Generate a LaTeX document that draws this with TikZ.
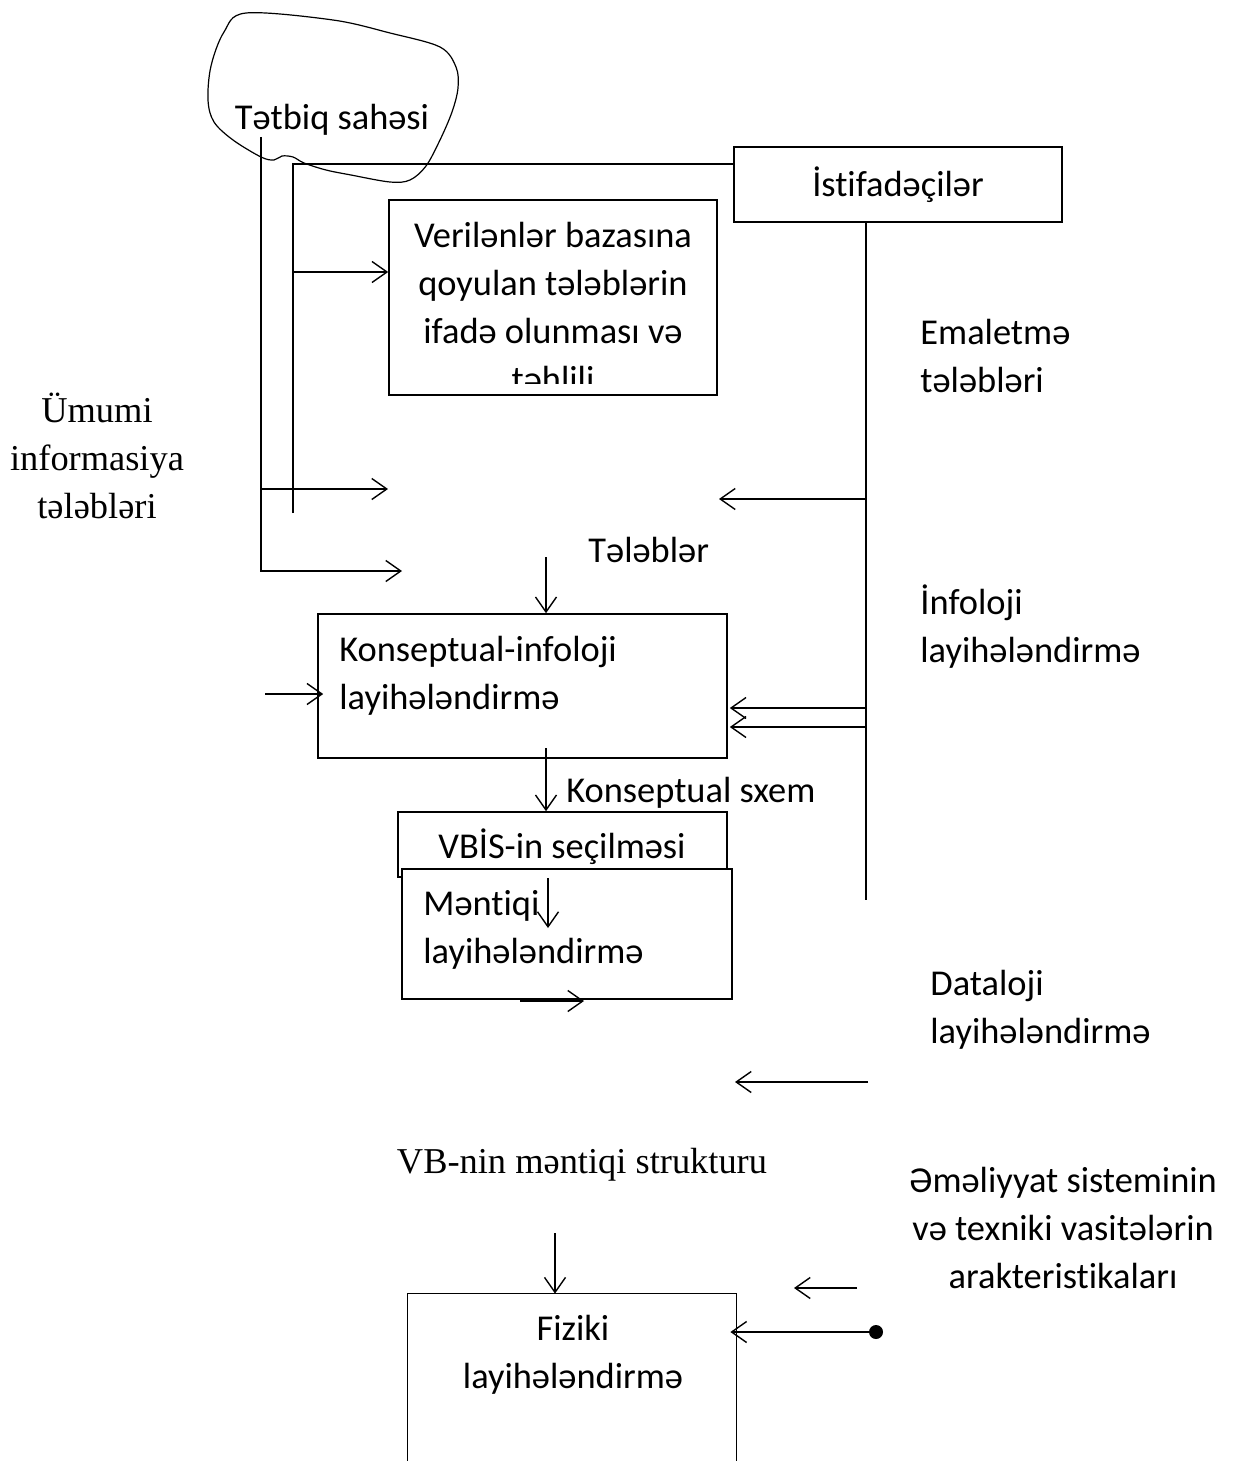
\documentclass[tikz,border=0pt]{standalone}
\usepackage{fontspec}
\setmainfont{Carlito}[Ligatures=CommonOff]
\newfontfamily\timesfont{Liberation Serif}
\usetikzlibrary{arrows.meta}

\tikzset{
    box/.style={draw, line width=0.8pt, inner sep=0pt},
    line/.style={line width=0.7pt},
    arr/.style={line width=0.7pt, -{Straight Barb[length=7.5pt,width=10.5pt]}},
    txt/.style={inner sep=0pt, font=\fontsize{18.2pt}{24pt}\selectfont},
    serif/.style={inner sep=0pt, font=\timesfont\fontsize{18.2pt}{24pt}\selectfont},
}

\begin{document}
\begin{tikzpicture}[x=0.5pt,y=-0.5pt]
        \useasboundingbox (0,0) rectangle (1235,1461);
        %% Cloud
        \draw[line width=0.6pt] plot[smooth cycle, tension=0.55] coordinates {
            (208,100) (211,66) (224,32) (246,13) (333,20) (390,33) (440,47)
            (456,67) (458,88) (452,112) (440,140) (426,166) (410,180)
            (390,182) (351,175) (326,170) (304,163) (293,157) (282,156)
            (274,160) (261,157) (233,140) (214,122)};
        \node[txt, anchor=base] (tetbiq) at (332,130) {Tətbiq sahəsi};
        %% Boxes (multi-line texts placed at the baseline of their last line)
        \node[box, txt, minimum width=164pt, minimum height=37.5pt] (istif) at (898,184.5) {İstifadəçilər};
        \node[box, minimum width=164pt, minimum height=97.5pt] (verilen) at (553,297.5) {};
        \begin{scope}
            \clip (389,200) rectangle (717,383);
            \node[txt, align=center, anchor=base] (verilentxt) at (553,391)
                {Verilənlər bazasına\\qoyulan tələblərin\\ifadə olunması və\\təhlili};
        \end{scope}
        \node[box, minimum width=204.5pt, minimum height=72pt] (konsept) at (522.5,686) {};
            \node[txt, align=left, anchor=base west] (konsepttxt) at (339,709) {Konseptual-infoloji\\layihələndirmə};
        \node[box, minimum width=164.5pt, minimum height=32.5pt] (vbis) at (562.5,844.5) {};
            \node[txt, anchor=base] (vbistxt) at (562,858) {VBİS-in seçilməsi};
        \node[box, fill=white, minimum width=165pt, minimum height=65pt] (mentiq) at (567,934) {};
            \node[txt, align=left, anchor=base west] (mentiqtxt) at (423,963) {Məntiqi\\layihələndirmə};
        \node[minimum width=164pt, minimum height=83.5pt, inner sep=0pt] (fiziki) at (572,1377.5) {};
            \draw[line width=0.8pt] (fiziki.south west) |- (fiziki.north east) -- (fiziki.south east);
            \node[txt, align=center, anchor=base] (fizikitxt) at (573,1388) {Fiziki\\layihələndirmə};
        %% Labels
        \node[serif, align=center, anchor=base] (umumi) at (97,518) {Ümumi\\informasiya\\tələbləri};
        \node[txt, align=left, anchor=base west] (emal) at (920,392) {Emaletmə\\tələbləri};
        \node[txt, anchor=base west] (teleb) at (588,562) {Tələblər};
        \node[txt, align=left, anchor=base west] (infoloji) at (920,662) {İnfoloji\\layihələndirmə};
        \node[txt, anchor=base west] (sxem) at (566,802) {Konseptual sxem};
        \node[txt, align=left, anchor=base west] (dataloji) at (930,1043) {Dataloji\\layihələndirmə};
        \node[serif, anchor=base] (struktur) at (582,1173) {VB-nin məntiqi strukturu};
        \node[txt, align=center, anchor=base] (emeliyyat) at (1063,1288) {Əməliyyat sisteminin\\və texniki vasitələrin\\arakteristikaları};
        %% Left buses
        \coordinate (busA) at (261,137);
        \coordinate (busB) at (293,513);
        \coordinate (topbus) at (293,164);
        \coordinate (vin) at (293,272);
        \coordinate (tipA) at (388,489);
        \coordinate (tipB) at (402,571);
        \draw[arr] (busA) |- (tipB);
        \draw[arr] (busA |- tipA) -- (tipA);
        \draw[line] (busB) -- (topbus) -- (topbus -| istif.west);
        \draw[arr] (vin) -- (vin -| verilen.west);
        %% Right bus
        \coordinate (rtop) at (866,222);
        \coordinate (rbot) at (866,900);
        \coordinate (tipC) at (719,499);
        \coordinate (rin1) at (866,708);
        \coordinate (rin2) at (866,727);
        \draw[line] (rtop) -- (rbot);
        \draw[arr] (rtop |- tipC) -- (tipC);
        \draw[arr] (rin1) -- ([xshift=1pt]konsept.east |- rin1);
        \draw[arr] (rin2) -- ([xshift=1pt]konsept.east |- rin2);
        %% Middle arrows
        \coordinate (talin) at (546,557);
        \coordinate (leftin) at (265,694);
        \coordinate (sxout) at (546,748);
        \coordinate (mtop) at (548,878);
        \coordinate (mbot) at (548,928);
        \coordinate (mout) at (520,1001);
        \coordinate (mtip) at (584,1001);
        \draw[arr] (talin) -- (konsept.north -| talin);
        \draw[arr] (leftin) -- ([xshift=3pt]konsept.west |- leftin);
        \draw[arr] (sxout) -- (vbis.north -| sxout);
        \draw[arr] (mtop) -- (mbot);
        \draw[arr] (mout) -- (mtip);
        %% Lower arrows
        \coordinate (dstart) at (868,1082);
        \coordinate (dtip) at (735,1082);
        \coordinate (fin) at (555,1233);
        \coordinate (osin) at (857,1288);
        \coordinate (ostip) at (794,1288);
        \coordinate (osdot) at (876,1332);
        \draw[arr] (dstart) -- (dtip);
        \draw[arr] (fin) -- (fiziki.north -| fin);
        \draw[arr] (osin) -- (ostip);
        \fill (osdot) circle [radius=3.5pt];
        \draw[arr] (osdot) -- ([xshift=-3pt]fiziki.east |- osdot);
    \end{tikzpicture}
\end{document}
